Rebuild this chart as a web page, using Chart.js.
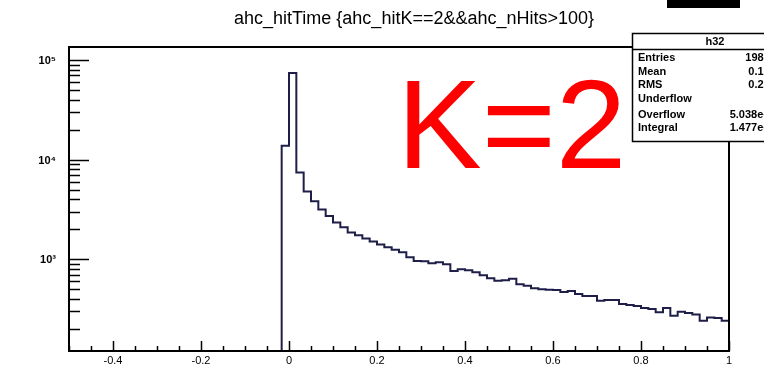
<!DOCTYPE html>
<html>
<head>
<meta charset="utf-8">
<script src="https://cdn.jsdelivr.net/npm/chart.js@4.4.1/dist/chart.umd.min.js"></script>
<style>
  html, body { margin: 0; padding: 0; background: #fff; }
  #wrap { width: 764px; height: 369px; position: relative; }
</style>
</head>
<body>
<div id="wrap"><canvas id="hist" width="764" height="369"></canvas></div>
<script>
// ahc_hitTime for K==2, 60 bins per unit, first filled bin starts at -1/60
var binWidth = 1 / 60;
var firstEdge = -1 / 60;
var counts = [
  13800, 74100,
  7410, 4790, 3830, 3160, 2710, 2340, 2090, 1860, 1740, 1620,
  1510, 1410, 1320, 1245, 1175, 1047, 962, 955, 912, 933,
  891, 764, 794, 776, 741, 692, 646, 607, 617, 638,
  562, 543, 513, 501, 495, 490, 468, 479, 447, 427,
  427, 383, 389, 389, 355, 347, 339, 324, 316, 293,
  324, 271, 297, 288, 279, 242, 261, 257, 242
];
var xTicks = [-0.4, -0.2, 0, 0.2, 0.4, 0.6, 0.8, 1];
var xTickLabels = ['-0.4', '-0.2', '0', '0.2', '0.4', '0.6', '0.8', '1'];
var yTicks = [1000, 10000, 100000];
var yTickLabels = ['10³', '10⁴', '10⁵'];
var statNames = ['Entries', 'Mean', 'RMS', 'Underflow', 'Overflow', 'Integral'];
var statValues = ['198082', '0.1526', '0.2274', '0', '5.038e+04', '1.477e+05'];

var xMin = -0.5, xMax = 1;
var yMin = 120, yMax = 135000;

// histogram outline: rise from the frame bottom, then one step per bin
// (each point is a bin's low edge; 'before' draws the flat part first)
var pts = [{x: firstEdge, y: yMin}];
for (var i = 0; i < counts.length; i++) {
  pts.push({x: firstEdge + i * binWidth, y: counts[i]});
}
pts.push({x: xMax, y: counts[counts.length - 1]});

var rootFrame = {
  id: 'rootFrame',
  afterDatasetsDraw: function(chart) {
    var c = chart.ctx;
    var a = chart.chartArea;
    var sx = chart.scales.x, sy = chart.scales.y;
    c.save();
    c.strokeStyle = '#000';
    c.fillStyle = '#000';

    // frame
    c.lineWidth = 2;
    c.strokeRect(a.left, a.top, a.right - a.left, a.bottom - a.top);

    // x ticks, pointing into the frame
    c.lineWidth = 1.5;
    for (var t = -0.5; t <= 1.0001; t += 0.05) {
      var px = Math.round(sx.getPixelForValue(t)) + 0.5;
      var major = Math.abs(t / 0.2 - Math.round(t / 0.2)) < 0.01;
      c.beginPath();
      c.moveTo(px, a.bottom);
      c.lineTo(px, a.bottom - (major ? 10 : 5));
      c.stroke();
    }
    c.font = '11px "Liberation Sans", Arial, sans-serif';
    c.textAlign = 'center';
    c.textBaseline = 'top';
    for (var k = 0; k < xTicks.length; k++) {
      c.fillText(xTickLabels[k], sx.getPixelForValue(xTicks[k]), a.bottom + 4);
    }

    // y ticks, decades and their 2..9 subdivisions
    for (var dec = 100; dec <= 100000; dec *= 10) {
      for (var m = 1; m <= 9; m++) {
        var v = dec * m;
        if (v < yMin || v > yMax) continue;
        var py = Math.round(sy.getPixelForValue(v)) + 0.5;
        c.beginPath();
        c.moveTo(a.left, py);
        c.lineTo(a.left + (m === 1 ? 20 : 11), py);
        c.stroke();
      }
    }
    c.textAlign = 'right';
    c.textBaseline = 'middle';
    c.font = 'bold 11px "Liberation Sans", Arial, sans-serif';
    for (var j = 0; j < yTicks.length; j++) {
      c.fillText(yTickLabels[j], a.left - 13, sy.getPixelForValue(yTicks[j]) + 1);
    }

    // title
    c.font = '18px "Liberation Sans", Arial, sans-serif';
    c.textAlign = 'center';
    c.textBaseline = 'alphabetic';
    c.fillText('ahc_hitTime {ahc_hitK==2&&ahc_nHits>100}', 414, 24);

    // small black bar in the top corner
    c.fillRect(667, 0, 73, 8);

    // stats box
    var bx = 632, by = 33, bw = 150, bh = 108;
    c.fillStyle = '#fff';
    c.fillRect(bx, by, bw, bh);
    c.fillStyle = '#000';
    c.lineWidth = 1.5;
    c.strokeRect(bx + 0.5, by + 0.5, bw, bh);
    c.beginPath();
    c.moveTo(bx, by + 16.5);
    c.lineTo(bx + bw, by + 16.5);
    c.stroke();
    c.font = 'bold 11px "Liberation Sans", Arial, sans-serif';
    c.textAlign = 'center';
    c.fillText('h32', 715, by + 12);
    var rowY = [61, 75, 88, 102, 118, 131];
    for (var r = 0; r < statNames.length; r++) {
      c.textAlign = 'left';
      c.fillText(statNames[r], bx + 6, rowY[r]);
      c.textAlign = 'right';
      c.fillText(statValues[r], 782, rowY[r]);
    }

    // label
    c.fillStyle = '#ff0000';
    c.font = '127px "Liberation Sans", Arial, sans-serif';
    c.textAlign = 'left';
    c.fillText('K=2', 397, 168);
    c.restore();
  }
};

new Chart(document.getElementById('hist').getContext('2d'), {
  type: 'line',
  data: {
    datasets: [{
      label: 'ahc_hitTime',
      data: pts,
      stepped: 'before',
      borderColor: '#1e1e48',
      borderWidth: 2,
      pointRadius: 0,
      fill: false
    }]
  },
  options: {
    responsive: false,
    animation: false,
    layout: { padding: { left: 69, right: 35, top: 47, bottom: 18 } },
    plugins: { legend: { display: false }, tooltip: { enabled: false } },
    scales: {
      x: { type: 'linear', min: xMin, max: xMax, display: false },
      y: { type: 'logarithmic', min: yMin, max: yMax, display: false }
    }
  },
  plugins: [rootFrame]
});
</script>
</body>
</html>
